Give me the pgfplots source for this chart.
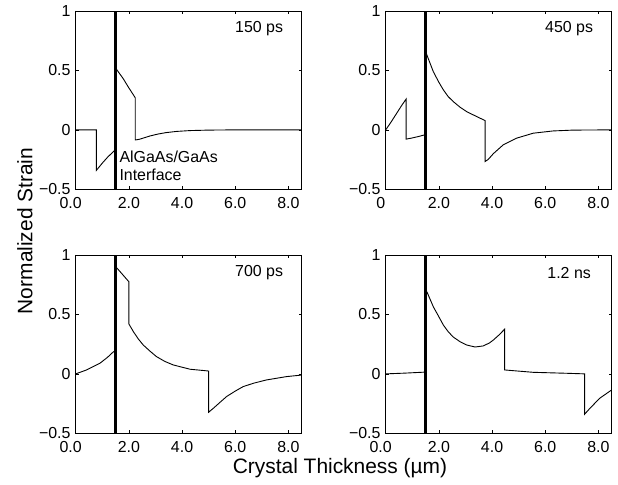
\documentclass[border=0pt]{standalone}
\usepackage{pgfplots}
\pgfplotsset{compat=1.18}
\usepackage{fontspec}
\setmainfont{Liberation Sans}

\pgfplotsset{
  panel/.style={
    anchor=south west, scale only axis,
    width=226bp, height=178.3bp,
    xmin=0, xmax=8.5, ymin=-0.5, ymax=1,
    xtick={0,2,4,6,8}, xticklabels={0.0\kern10bp,2.0,4.0,6.0,8.0},
    ytick={-0.5,0,0.5,1}, yticklabels={−0.5,0,0.5,1},
    tick align=inside, major tick length=3bp,
    tick style={black, line width=0.6bp},
    axis line style={line width=0.8bp},
    tick label style={font=\fontsize{16}{16}\selectfont},
    xticklabel style={inner sep=0pt, yshift=-7.4bp},
    yticklabel style={inner sep=0pt, xshift=-5bp},
  },
  strain/.style={black, line width=0.9bp, no marks},
  iface/.style={black, line width=3bp, no marks},
}

\begin{document}
\begin{tikzpicture}
\path[use as bounding box] (0,0) rectangle (618bp,485bp);

% 150 ps
\begin{axis}[panel, at={(75.7bp,295.7bp)}]
  \addplot[strain] coordinates {
    (0,0) (0.78,0) (0.78,-0.34) (1.0,-0.28) (1.2,-0.23) (1.5,-0.165)
    (1.5,0.52) (1.79,0.43) (1.98,0.36) (2.24,0.27) (2.24,-0.085)
    (2.4,-0.079) (2.6,-0.065) (2.8,-0.051) (3.1,-0.035) (3.4,-0.023)
    (3.8,-0.013) (4.3,-0.006) (5.0,-0.002) (6.0,0) (8.5,0)};
  \addplot[iface] coordinates {(1.5,-0.5) (1.5,1)};
  \node[font=\fontsize{16}{16}\selectfont] at (axis cs:6.9,0.85) {150 ps};
  \node[font=\fontsize{16}{16}\selectfont, anchor=base west, inner sep=0pt]
    at (axis cs:1.64,-0.275) {AlGaAs/GaAs};
  \node[font=\fontsize{16}{16}\selectfont, anchor=base west, inner sep=0pt]
    at (axis cs:1.64,-0.426) {Interface};
\end{axis}

% 450 ps
\begin{axis}[panel, at={(385.7bp,295.7bp)}, xticklabels={0\kern10bp,2.0,4.0,6.0,8.0}]
  \addplot[strain] coordinates {
    (0,0) (0.2,0.065) (0.4,0.135) (0.6,0.205) (0.77,0.26) (0.77,-0.078)
    (1.0,-0.068) (1.25,-0.055) (1.5,-0.04)
    (1.5,0.66) (1.6,0.6) (1.79,0.49) (2.0,0.4) (2.17,0.336) (2.35,0.28)
    (2.54,0.238) (2.8,0.19) (3.04,0.154) (3.42,0.112) (3.74,0.078)
    (3.74,-0.266) (3.85,-0.25) (4.05,-0.2) (4.42,-0.126) (4.92,-0.07)
    (5.55,-0.028) (6.3,-0.009) (7.05,-0.002) (8.5,0)};
  \addplot[iface] coordinates {(1.5,-0.5) (1.5,1)};
  \node[font=\fontsize{16}{16}\selectfont] at (axis cs:6.9,0.85) {450 ps};
\end{axis}

% 700 ps
\begin{axis}[panel, at={(75.7bp,51.7bp)}]
  \addplot[strain] coordinates {
    (0,0) (0.41,0.033) (0.91,0.089) (1.2,0.14) (1.41,0.184) (1.5,0.195)
    (1.5,0.9) (1.56,0.888) (2.0,0.775) (2.0,0.42) (2.17,0.355) (2.35,0.295)
    (2.54,0.243) (2.8,0.19) (3.04,0.145) (3.35,0.105) (3.67,0.075)
    (4.3,0.039) (5.0,0.024) (5.0,-0.323) (5.2,-0.285) (5.45,-0.235)
    (5.68,-0.19) (6.0,-0.145) (6.3,-0.107) (6.7,-0.078) (7.18,-0.051)
    (7.93,-0.023) (8.5,-0.01)};
  \addplot[iface] coordinates {(1.5,-0.5) (1.5,1)};
  \node[font=\fontsize{16}{16}\selectfont] at (axis cs:6.9,0.85) {700 ps};
\end{axis}

% 1.2 ns
\begin{axis}[panel, at={(385.7bp,51.7bp)}]
  \addplot[strain] coordinates {
    (0,0) (0.7,0.006) (1.5,0.015)
    (1.5,0.7) (1.55,0.69) (1.79,0.565) (2.0,0.48) (2.17,0.41) (2.35,0.355)
    (2.54,0.31) (2.8,0.27) (3.04,0.243) (3.36,0.226) (3.67,0.235)
    (3.9,0.26) (4.05,0.285) (4.25,0.325) (4.47,0.375) (4.47,0.033)
    (5.55,0.013) (6.8,0.005) (7.48,0.0) (7.48,-0.34) (7.68,-0.29)
    (8.05,-0.205) (8.5,-0.135)};
  \addplot[iface] coordinates {(1.5,-0.5) (1.5,1)};
  \node[font=\fontsize{16}{16}\selectfont] at (axis cs:6.9,0.85) {1.2 ns};
\end{axis}

\node[rotate=90, anchor=base, font=\fontsize{21}{21}\selectfont]
  at (32.3bp,254bp) {Normalized Strain};
\node[anchor=base, font=\fontsize{21}{21}\selectfont]
  at (340bp,11.7bp) {Crystal Thickness (µm)};
\end{tikzpicture}
\end{document}
